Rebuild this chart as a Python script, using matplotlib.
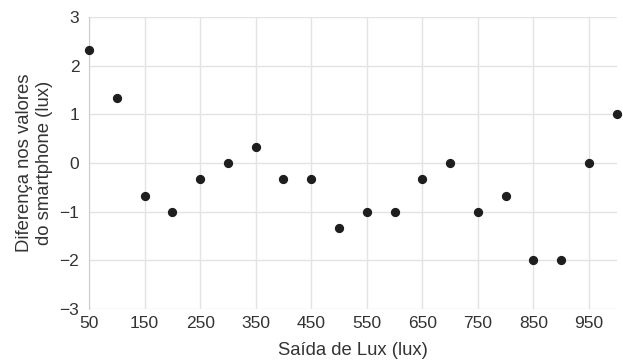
import matplotlib
matplotlib.use("Agg")
import matplotlib.pyplot as plt

plt.rcParams['font.family'] = ['Liberation Sans', 'DejaVu Sans']

lux_output = [50, 100, 150, 200, 250, 300, 350, 400, 450, 500,
              550, 600, 650, 700, 750, 800, 850, 900, 950, 1000]
difference = [2.33, 1.33, -0.67, -1.0, -0.33, 0.0, 0.33, -0.33, -0.33, -1.33,
              -1.0, -1.0, -0.33, 0.0, -1.0, -0.67, -2.0, -2.0, 0.0, 1.0]
x_ticks = [50, 150, 250, 350, 450, 550, 650, 750, 850, 950]
y_ticks = [-3, -2, -1, 0, 1, 2, 3]

fig = plt.figure(figsize=(6.23, 3.63), dpi=100)
ax = fig.add_axes([0.143, 0.149, 0.847, 0.804])

ax.scatter(lux_output, difference, s=32, color='#1e1e1e', zorder=3, clip_on=False)

ax.set_xlim(50, 1000)
ax.set_ylim(-3, 3)
ax.set_xticks(x_ticks)
ax.set_yticks(y_ticks)
ax.set_yticklabels([str(v).replace('-', '\u2212') for v in y_ticks])
ax.grid(True, color='#e3e3e3', linewidth=1.0)
ax.set_axisbelow(True)
for side in ['top', 'right', 'bottom']:
    ax.spines[side].set_visible(False)
ax.spines['left'].set_color('#cccccc')
ax.tick_params(length=0, labelsize=12.5, colors='#333333')
ax.tick_params(axis='x', pad=5)
ax.tick_params(axis='y', pad=7)

ax.set_xlabel('Saída de Lux (lux)', fontsize=13.3, color='#333333', labelpad=8)
ax.set_ylabel('Diferença nos valores\ndo smartphone (lux)', fontsize=13.3,
              color='#333333', labelpad=5, linespacing=1.2)

fig.savefig('out.png', dpi=100)
